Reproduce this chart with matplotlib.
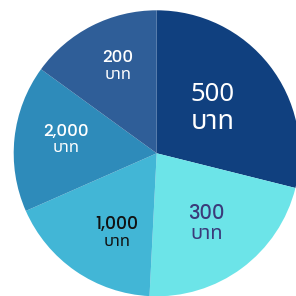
import numpy as np
import matplotlib
matplotlib.use('Agg')
import matplotlib.pyplot as plt

amounts = ['500', '300', '1,000', '2,000', '200']
unit = 'บาท'
shares = [28.9, 21.9, 17.6, 16.6, 15.0]
colors = ['#10407f', '#6ce4e8', '#42b6d6', '#2e8bba', '#2f5e98']
text_colors = ['white', '#3b3a7a', '#111111', 'white', 'white']
num_fonts = ['Noto Sans Thai', 'Poppins', 'Poppins', 'Poppins', 'Poppins']
num_sizes = [18.5, 14, 12.5, 12, 12]
unit_sizes = [19.5, 14.5, 12, 12, 12]
# label placement: radius, angle shift from the wedge middle, line offsets
label_r = [0.50, 0.60, 0.62, 0.64, 0.67]
label_shift = [1, -1, 8, -3, -3]
num_dy = [0.099, 0.062, 0.050, 0.050, 0.052]
unit_dy = [-0.099, -0.076, -0.066, -0.066, -0.068]

fig = plt.figure(figsize=(2.96, 2.96), dpi=100)
ax = fig.add_axes([13.7 / 296, -0.3 / 296, 286 / 296, 286 / 296])
wedges, _ = ax.pie(shares, colors=colors, startangle=90, counterclock=False,
                   radius=1, wedgeprops=dict(linewidth=0))
ax.set_xlim(-1, 1)
ax.set_ylim(-1, 1)
ax.set_aspect('equal')
ax.axis('off')

for i, w in enumerate(wedges):
    mid = np.deg2rad((w.theta1 + w.theta2) / 2 + label_shift[i])
    x = label_r[i] * np.cos(mid)
    y = label_r[i] * np.sin(mid)
    ax.text(x, y + num_dy[i], amounts[i], ha='center', va='center',
            color=text_colors[i], fontsize=num_sizes[i], fontweight='medium',
            family=[num_fonts[i], 'DejaVu Sans'])
    ax.text(x, y + unit_dy[i], unit, ha='center', va='center',
            color=text_colors[i], fontsize=unit_sizes[i], fontweight='medium',
            family=['Noto Sans Thai', 'DejaVu Sans'])

fig.savefig('out.png', dpi=100)
